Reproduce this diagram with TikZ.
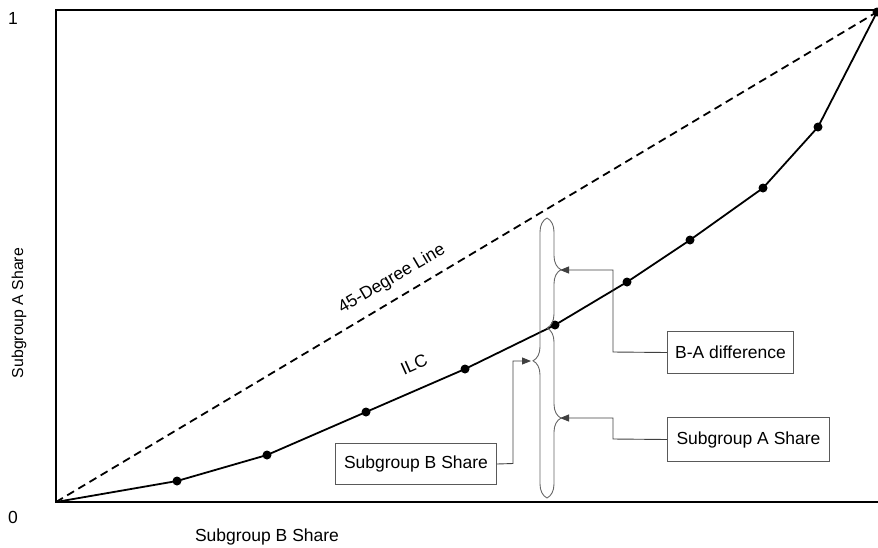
\documentclass[tikz,border=0pt]{standalone}
\usepackage{fontspec}
\setmainfont{Liberation Sans}
\usetikzlibrary{arrows.meta,decorations.pathreplacing}
\begin{document}
\begin{tikzpicture}[x=1pt,y=-1pt,
  lbl/.style={font=\fontsize{17.5}{20}\selectfont, inner sep=0pt},
  box/.style={draw=black!65, line width=1pt, font=\fontsize{17.5}{20}\selectfont, inner sep=0pt, minimum height=42pt, anchor=north west},
  conn/.style={draw=black!75, line width=0.9pt, -{Triangle[length=9pt,width=7pt]}},
  brc/.style={draw=black!60, line width=0.9pt, decorate},
  dot/.style={circle, fill=black, inner sep=0pt, minimum size=9pt},
  ilc/.style={line width=1.8pt, black},
  diag/.style={line width=1.8pt, dash pattern=on 8pt off 5pt}]
\useasboundingbox (0,0) rectangle (878,547);
% frame
\draw[line width=2.5pt] (878,10) -- (56,10) -- (56,502) -- (878,502);
% coordinates of the ILC
\coordinate (p0) at (56,502);
\coordinate (p1) at (177,481);
\coordinate (p2) at (267,455);
\coordinate (p3) at (366,412);
\coordinate (p4) at (465,369);
\coordinate (p5) at (555,325);
\coordinate (p6) at (627,282);
\coordinate (p7) at (690,240);
\coordinate (p8) at (763,188);
\coordinate (p9) at (818,127);
\coordinate (p10) at (877,12);
% 45-degree line
\draw[diag] (p0) -- (p10);
% ILC
\draw[ilc] (p0) -- (p1) -- (p2) -- (p3) -- (p4) -- (p5) -- (p6) -- (p7) -- (p8) -- (p9) -- (p10);
\foreach \i in {1,...,10} \node[dot] at (p\i) {};
% labels
\node[lbl] (one) at (13,18) {1};
\node[lbl] (zero) at (13,517) {0};
\node[lbl] (xlab) at (267,537) {Subgroup B Share};
\node[lbl, rotate=90, font=\fontsize{15.8}{18}\selectfont] (ylab) at (19,313) {Subgroup A Share};
\node[lbl, rotate=30.5] (deg) at (392,279) {45-Degree Line};
\node[lbl, rotate=24] (ilclab) at (414,364) {ILC};
% braces
\coordinate (bt) at (547,218);
\coordinate (bm) at (547,328);
\coordinate (bb) at (547,498);
\draw[brc, decoration={brace, amplitude=14pt, aspect=0.49}] (bb) -- (bt);
\draw[brc, decoration={brace, amplitude=14pt, aspect=0.47}] (bt) -- (bm);
\draw[brc, decoration={brace, amplitude=14pt, aspect=0.53}] (bm) -- (bb);
\coordinate (tipL) at (531,361);
\coordinate (tipU) at (560,270);
\coordinate (tipD) at (560,418);
% boxes
\node[box, minimum width=126pt] (ba) at (667,331) {B-A difference};
\node[box, minimum width=162pt, minimum height=44pt] (sa) at (667,417) {Subgroup A Share};
\node[box, minimum width=161pt, minimum height=41pt] (sb) at (335,443) {Subgroup B Share};
% connectors
\draw[conn] (ba.west) -- (613,352) |- (tipU);
\draw[conn] (sa.west) -- (613,439) |- (tipD);
\draw[conn] (sb.east) -- (513,463.5) |- (tipL);
\end{tikzpicture}
\end{document}
